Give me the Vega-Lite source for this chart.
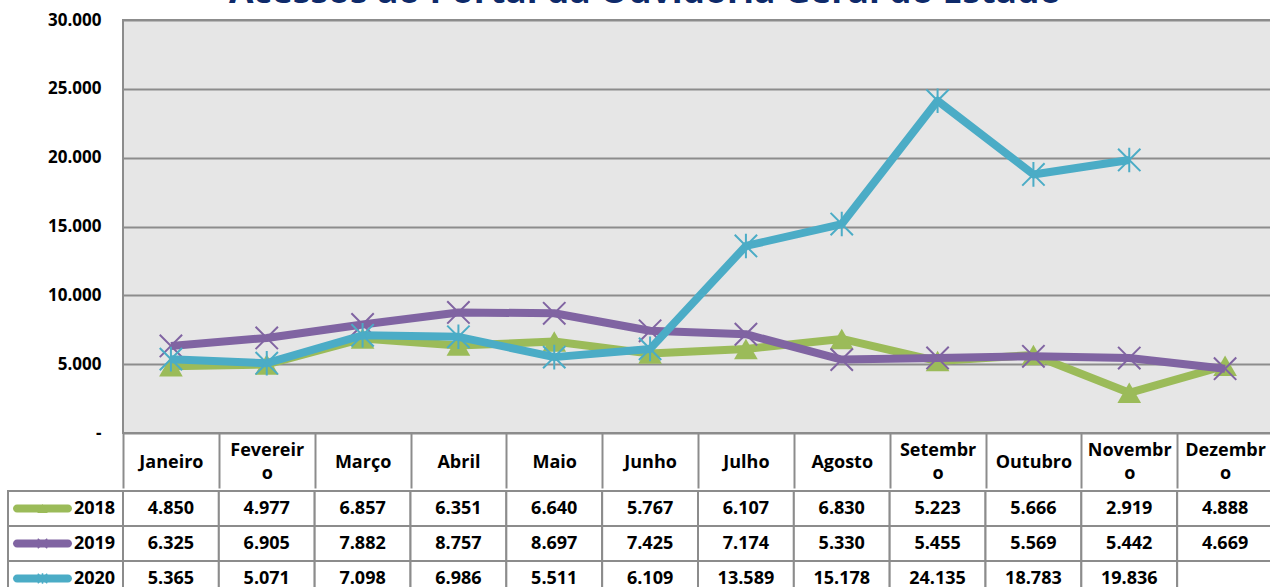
{
  "$schema": "https://vega.github.io/schema/vega-lite/v6.json",
  "background": "white",
  "padding": {"left": 7, "top": -27, "right": 0, "bottom": 0},
  "spacing": 0,
  "config": {
    "locale": {"number": {"decimal": ",", "thousands": ".", "grouping": [3], "currency": ["R$", ""]}},
    "font": "Open Sans",
    "view": {"stroke": null}
  },
  "datasets": {
    "acessos": [
      {"month": "Janeiro", "year": "2018", "value": 4850},
      {"month": "Fevereiro", "year": "2018", "value": 4977},
      {"month": "Março", "year": "2018", "value": 6857},
      {"month": "Abril", "year": "2018", "value": 6351},
      {"month": "Maio", "year": "2018", "value": 6640},
      {"month": "Junho", "year": "2018", "value": 5767},
      {"month": "Julho", "year": "2018", "value": 6107},
      {"month": "Agosto", "year": "2018", "value": 6830},
      {"month": "Setembro", "year": "2018", "value": 5223},
      {"month": "Outubro", "year": "2018", "value": 5666},
      {"month": "Novembro", "year": "2018", "value": 2919},
      {"month": "Dezembro", "year": "2018", "value": 4888},
      {"month": "Janeiro", "year": "2019", "value": 6325},
      {"month": "Fevereiro", "year": "2019", "value": 6905},
      {"month": "Março", "year": "2019", "value": 7882},
      {"month": "Abril", "year": "2019", "value": 8757},
      {"month": "Maio", "year": "2019", "value": 8697},
      {"month": "Junho", "year": "2019", "value": 7425},
      {"month": "Julho", "year": "2019", "value": 7174},
      {"month": "Agosto", "year": "2019", "value": 5330},
      {"month": "Setembro", "year": "2019", "value": 5455},
      {"month": "Outubro", "year": "2019", "value": 5569},
      {"month": "Novembro", "year": "2019", "value": 5442},
      {"month": "Dezembro", "year": "2019", "value": 4669},
      {"month": "Janeiro", "year": "2020", "value": 5365},
      {"month": "Fevereiro", "year": "2020", "value": 5071},
      {"month": "Março", "year": "2020", "value": 7098},
      {"month": "Abril", "year": "2020", "value": 6986},
      {"month": "Maio", "year": "2020", "value": 5511},
      {"month": "Junho", "year": "2020", "value": 6109},
      {"month": "Julho", "year": "2020", "value": 13589},
      {"month": "Agosto", "year": "2020", "value": 15178},
      {"month": "Setembro", "year": "2020", "value": 24135},
      {"month": "Outubro", "year": "2020", "value": 18783},
      {"month": "Novembro", "year": "2020", "value": 19836},
      {"month": "Dezembro", "year": "2020", "value": null}
    ],
    "anos": [
      {"year": "2018"},
      {"year": "2019"},
      {"year": "2020"}
    ]
  },
  "vconcat": [
    {
      "spacing": 0,
      "bounds": "flush",
      "hconcat": [
        {
          "width": 115,
          "height": 413,
          "data": {"name": "acessos"},
          "mark": {"type": "point", "opacity": 0},
          "encoding": {
            "y": {
              "field": "value",
              "type": "quantitative",
              "scale": {"domain": [0, 30000], "nice": false},
              "axis": {
                "title": null,
                "orient": "right",
                "values": [0, 5000, 10000, 15000, 20000, 25000, 30000],
                "format": ",d",
                "labelExpr": "datum.value === 0 ? '-\u2007\u2007\u2007\u2007' : datum.label",
                "grid": false,
                "domain": false,
                "ticks": false,
                "labelAlign": "right",
                "labelFont": "Open Sans",
                "labelFontSize": 17,
                "labelFontWeight": "bold",
                "labelColor": "black",
                "labelPadding": -22
              }
            }
          }
        },
        {
          "width": 1150,
          "height": 413,
          "title": {
            "text": "Acessos ao Portal da Ouvidoria Geral do Estado",
            "font": "Open Sans",
            "fontSize": 35.5,
            "fontWeight": "bold",
            "color": "#0E2A6A",
            "anchor": "middle",
            "frame": "bounds",
            "offset": 10,
            "dx": -50
          },
          "view": {"fill": "#E6E6E6", "stroke": "#8C8C8C", "strokeWidth": 2},
          "data": {"name": "acessos"},
          "encoding": {
            "x": {
              "field": "month",
              "type": "nominal",
              "sort": ["Janeiro", "Fevereiro", "Março", "Abril", "Maio", "Junho", "Julho", "Agosto", "Setembro", "Outubro", "Novembro", "Dezembro"],
              "scale": {"type": "band", "paddingInner": 0, "paddingOuter": 0},
              "axis": {
                "title": null,
                "orient": "bottom",
                "tickBand": "extent",
                "ticks": true,
                "tickSize": 55,
                "tickWidth": 2,
                "tickColor": "#8C8C8C",
                "domain": false,
                "grid": false,
                "labelAngle": 0,
                "labelAlign": "center",
                "labelBaseline": "middle",
                "labelPadding": -37.5,
                "labelFont": "Open Sans",
                "labelFontSize": 18,
                "labelFontWeight": "bold",
                "labelColor": "black",
                "labelLineHeight": 11.5,
                "labelLimit": 300,
                "labelOverlap": false,
                "labelExpr": "length(datum.label) >= 8 ? [substring(datum.label, 0, length(datum.label) - 1), '\u2800', substring(datum.label, length(datum.label) - 1)] : ['\u2800', datum.label]"
              }
            },
            "y": {
              "field": "value",
              "type": "quantitative",
              "scale": {"domain": [0, 30000], "nice": false},
              "axis": {
                "title": null,
                "values": [0, 5000, 10000, 15000, 20000, 25000, 30000],
                "labels": false,
                "grid": true,
                "gridColor": "#8C8C8C",
                "gridWidth": 2,
                "domain": false,
                "ticks": false
              }
            }
          },
          "layer": [
            {
              "transform": [{"filter": "datum.year === '2018'"}],
              "mark": {"type": "line", "color": "#9BBB59", "strokeWidth": 8, "strokeJoin": "round"}
            },
            {
              "transform": [{"filter": "datum.year === '2018'"}],
              "mark": {"type": "point", "shape": "triangle-up", "filled": true, "color": "#9BBB59", "size": 560, "opacity": 1}
            },
            {
              "transform": [{"filter": "datum.year === '2019'"}],
              "mark": {"type": "line", "color": "#8064A2", "strokeWidth": 8, "strokeJoin": "round"}
            },
            {
              "transform": [{"filter": "datum.year === '2019'"}],
              "mark": {"type": "point", "shape": "M-1,-1L1,1M1,-1L-1,1", "filled": false, "color": "#8064A2", "strokeWidth": 2, "size": 500, "opacity": 1}
            },
            {
              "transform": [{"filter": "datum.year === '2020' && datum.value != null"}],
              "mark": {"type": "line", "color": "#4BACC6", "strokeWidth": 8, "strokeJoin": "round"}
            },
            {
              "transform": [{"filter": "datum.year === '2020' && datum.value != null"}],
              "mark": {"type": "point", "shape": "M-1,-1L1,1M1,-1L-1,1M0,-1.1L0,1.1", "filled": false, "color": "#4BACC6", "strokeWidth": 2, "size": 500, "opacity": 1}
            }
          ]
        }
      ]
    },
    {
      "spacing": 0,
      "bounds": "flush",
      "hconcat": [
        {
          "width": 115,
          "height": 105,
          "data": {"name": "anos"},
          "encoding": {
            "y": {"field": "year", "type": "nominal", "scale": {"type": "band", "paddingInner": 0, "paddingOuter": 0}, "axis": null}
          },
          "layer": [
            {"mark": {"type": "rect", "fill": "white", "stroke": "#8C8C8C", "strokeWidth": 2}},
            {
              "mark": {"type": "tick", "orient": "horizontal", "size": 59, "thickness": 8, "cornerRadius": 4, "xOffset": -23, "opacity": 1},
              "encoding": {
                "color": {"field": "year", "type": "nominal", "scale": {"domain": ["2018", "2019", "2020"], "range": ["#9BBB59", "#8064A2", "#4BACC6"]}, "legend": null}
              }
            },
            {
              "transform": [{"filter": "datum.year === '2018'"}],
              "mark": {"type": "point", "shape": "triangle-up", "filled": true, "color": "#9BBB59", "size": 110, "opacity": 1, "xOffset": -23}
            },
            {
              "transform": [{"filter": "datum.year === '2019'"}],
              "mark": {"type": "point", "shape": "M-1,-1L1,1M1,-1L-1,1", "filled": false, "color": "#8064A2", "strokeWidth": 1.5, "size": 90, "opacity": 1, "xOffset": -23}
            },
            {
              "transform": [{"filter": "datum.year === '2020'"}],
              "mark": {"type": "point", "shape": "M-1,-1L1,1M1,-1L-1,1M0,-1.1L0,1.1", "filled": false, "color": "#4BACC6", "strokeWidth": 1.5, "size": 90, "opacity": 1, "xOffset": -23}
            },
            {
              "mark": {"type": "text", "dx": 29, "font": "Open Sans", "fontSize": 18, "fontWeight": "bold", "color": "black"},
              "encoding": {"text": {"field": "year", "type": "nominal"}}
            }
          ]
        },
        {
          "width": 1150,
          "height": 105,
          "data": {"name": "acessos"},
          "encoding": {
            "x": {
              "field": "month",
              "type": "nominal",
              "sort": ["Janeiro", "Fevereiro", "Março", "Abril", "Maio", "Junho", "Julho", "Agosto", "Setembro", "Outubro", "Novembro", "Dezembro"],
              "scale": {"type": "band", "paddingInner": 0, "paddingOuter": 0},
              "axis": null
            },
            "y": {"field": "year", "type": "nominal", "scale": {"type": "band", "paddingInner": 0, "paddingOuter": 0}, "axis": null}
          },
          "layer": [
            {"mark": {"type": "rect", "fill": "white", "stroke": "#8C8C8C", "strokeWidth": 2}},
            {
              "transform": [{"filter": "datum.value != null"}],
              "mark": {"type": "text", "font": "Open Sans", "fontSize": 18, "fontWeight": "bold", "color": "black"},
              "encoding": {"text": {"field": "value", "type": "quantitative", "format": ",d"}}
            }
          ]
        }
      ]
    }
  ]
}
